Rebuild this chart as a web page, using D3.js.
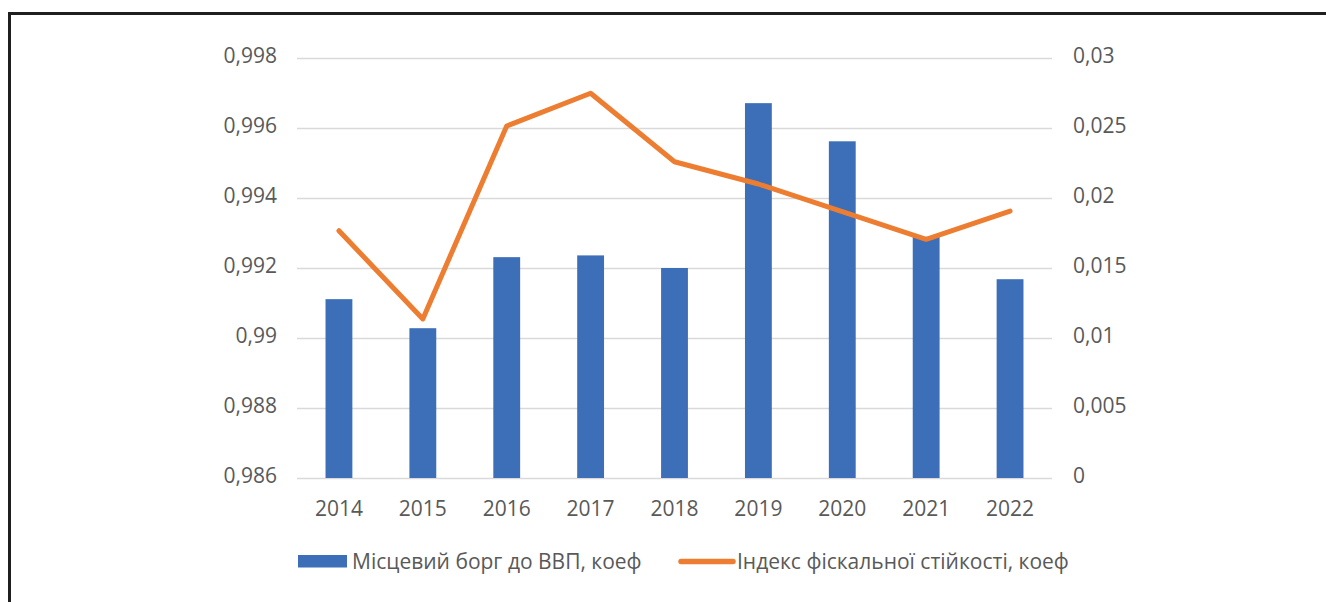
<!DOCTYPE html>
<html><head><meta charset="utf-8">
<script src="https://cdn.jsdelivr.net/npm/d3@7"></script>
<style>
html,body{margin:0;padding:0;background:#fff;}
svg{display:block;}
text{font-family:"Open Sans",sans-serif;fill:#595959;}
</style></head>
<body><svg id="c" width="1326" height="602"></svg>
<script>
const years = ["2014","2015","2016","2017","2018","2019","2020","2021","2022"];
const debtToGdp = [0.99111, 0.99028, 0.99231, 0.99236, 0.9920, 0.99671, 0.99562, 0.99289, 0.99168];
const fiscalIndex = [0.01766, 0.01136, 0.02514, 0.02748, 0.02259, 0.0210, 0.01902, 0.01705, 0.01907];
const leftTicks = [0.986, 0.988, 0.99, 0.992, 0.994, 0.996, 0.998];
const rightTicks = [0, 0.005, 0.01, 0.015, 0.02, 0.025, 0.03];
const seriesNames = ["Місцевий борг до ВВП, коеф", "Індекс фіскальної стійкості, коеф"];
const colors = ["#3d6fb8", "#ed7d31"];

const svg = d3.select("#c");
const plot = {left: 297, right: 1052, top: 58, bottom: 478};
const fs = 21;

// frame
svg.append("path").attr("d", "M9.5,1326 L9.5,13.5 L1326,13.5")
  .attr("fill","none").attr("stroke","#1f1f1f").attr("stroke-width",3);

const x = d3.scaleBand().domain(years).range([plot.left, plot.right]).padding(0);
const yL = d3.scaleLinear().domain([0.986, 0.998]).range([plot.bottom, plot.top]);
const yR = d3.scaleLinear().domain([0, 0.03]).range([plot.bottom, plot.top]);

const fmt = v => String(+v.toFixed(4)).replace(".", ",");

// gridlines
svg.append("g").selectAll("line").data(leftTicks).join("line")
  .attr("x1", plot.left).attr("x2", plot.right)
  .attr("y1", d => Math.round(yL(d)) + 0.5).attr("y2", d => Math.round(yL(d)) + 0.5)
  .attr("stroke", "#d9d9d9").attr("stroke-width", 1.5);

// left axis labels
const axL = d3.axisLeft(yL).tickValues(leftTicks).tickFormat(fmt).tickSize(0).tickPadding(20);
const gL = svg.append("g").attr("transform", `translate(${plot.left},0)`).call(axL);
gL.select(".domain").remove();
gL.selectAll("text").attr("font-size", fs).attr("fill", "#595959").attr("dy", "0.2em");

// right axis labels
const axR = d3.axisRight(yR).tickValues(rightTicks).tickFormat(fmt).tickSize(0).tickPadding(21);
const gR = svg.append("g").attr("transform", `translate(${plot.right},0)`).call(axR);
gR.select(".domain").remove();
gR.selectAll("text").attr("font-size", fs).attr("fill", "#595959").attr("dy", "0.2em");

// bottom axis labels
const axB = d3.axisBottom(x).tickSize(0).tickPadding(23);
const gB = svg.append("g").attr("transform", `translate(0,${plot.bottom})`).call(axB);
gB.select(".domain").remove();
gB.selectAll("text").attr("font-size", fs).attr("fill", "#595959");

// bars
const bw = x.bandwidth() * 0.32;
svg.append("g").selectAll("rect").data(debtToGdp).join("rect")
  .attr("x", (d, i) => x(years[i]) + x.bandwidth() / 2 - bw / 2)
  .attr("width", bw)
  .attr("y", d => yL(d))
  .attr("height", d => yL(0.986) - yL(d))
  .attr("fill", colors[0]);

// line
const line = d3.line().x((d, i) => x(years[i]) + x.bandwidth() / 2).y(d => yR(d));
svg.append("path").datum(fiscalIndex).attr("d", line)
  .attr("fill", "none").attr("stroke", colors[1]).attr("stroke-width", 5)
  .attr("stroke-linejoin", "round").attr("stroke-linecap", "round");

// legend
const lg = svg.append("g");
lg.append("rect").attr("x", 298).attr("y", 555).attr("width", 49).attr("height", 12.5).attr("fill", colors[0]);
lg.append("text").attr("x", 352).attr("y", 569).attr("font-size", fs).text(seriesNames[0]);
lg.append("line").attr("x1", 681).attr("x2", 733).attr("y1", 561.5).attr("y2", 561.5)
  .attr("stroke", colors[1]).attr("stroke-width", 5.5).attr("stroke-linecap", "round");
lg.append("text").attr("x", 737).attr("y", 569).attr("font-size", fs).text(seriesNames[1]);
</script>
</body></html>
